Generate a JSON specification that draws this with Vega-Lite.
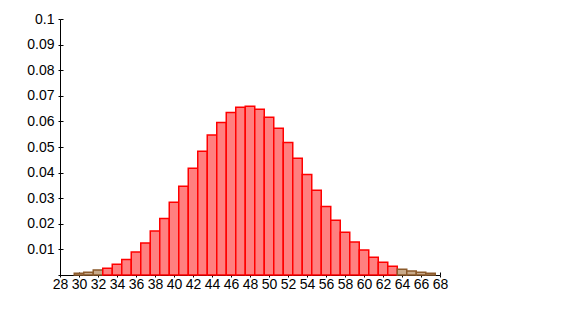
{
  "$schema": "https://vega.github.io/schema/vega-lite/v6.json",
  "width": 380,
  "height": 256,
  "autosize": {"type": "none"},
  "padding": {"left": 60, "top": 19, "right": 136, "bottom": 39},
  "background": "white",
  "config": {
    "view": {"stroke": null},
    "axis": {
      "labelFont": "Liberation Sans",
      "labelFontSize": 14,
      "labelColor": "black",
      "domainColor": "black",
      "tickColor": "black",
      "grid": false,
      "title": null,
      "zindex": 1
    }
  },
  "data": {
    "values": [
      {"k": 30, "p": 0.0007}, {"k": 31, "p": 0.0011}, {"k": 32, "p": 0.0020},
      {"k": 33, "p": 0.0026}, {"k": 34, "p": 0.0042}, {"k": 35, "p": 0.0061},
      {"k": 36, "p": 0.0090}, {"k": 37, "p": 0.0125}, {"k": 38, "p": 0.0172},
      {"k": 39, "p": 0.0221}, {"k": 40, "p": 0.0284}, {"k": 41, "p": 0.0347},
      {"k": 42, "p": 0.0417}, {"k": 43, "p": 0.0483}, {"k": 44, "p": 0.0547},
      {"k": 45, "p": 0.0596}, {"k": 46, "p": 0.0635}, {"k": 47, "p": 0.0655},
      {"k": 48, "p": 0.0659}, {"k": 49, "p": 0.0647}, {"k": 50, "p": 0.0616},
      {"k": 51, "p": 0.0573}, {"k": 52, "p": 0.0518}, {"k": 53, "p": 0.0456},
      {"k": 54, "p": 0.0393}, {"k": 55, "p": 0.0331}, {"k": 56, "p": 0.0268},
      {"k": 57, "p": 0.0214}, {"k": 58, "p": 0.0167}, {"k": 59, "p": 0.0129},
      {"k": 60, "p": 0.0098}, {"k": 61, "p": 0.0069}, {"k": 62, "p": 0.0050},
      {"k": 63, "p": 0.0034}, {"k": 64, "p": 0.0022}, {"k": 65, "p": 0.0016},
      {"k": 66, "p": 0.0011}, {"k": 67, "p": 0.0007}
    ]
  },
  "transform": [
    {"calculate": "datum.k - 0.5", "as": "lo"},
    {"calculate": "datum.k + 0.5", "as": "hi"}
  ],
  "layer": [
    {
      "mark": {"type": "bar", "strokeWidth": 1.5},
      "encoding": {
        "x": {
          "field": "lo", "type": "quantitative",
          "scale": {"domain": [28, 68], "nice": false, "zero": false},
          "axis": {
            "values": [28, 30, 32, 34, 36, 38, 40, 42, 44, 46, 48, 50, 52, 54, 56, 58, 60, 62, 64, 66, 68],
            "tickSize": 2, "labelPadding": 0, "labelFlush": false, "labelOverlap": false,
            "orient": "bottom"
          }
        },
        "x2": {"field": "hi"},
        "y": {
          "field": "p", "type": "quantitative",
          "scale": {"domain": [0, 0.1], "nice": false},
          "axis": {
            "values": [0, 0.01, 0.02, 0.03, 0.04, 0.05, 0.06, 0.07, 0.08, 0.09, 0.1],
            "format": "~g",
            "labelExpr": "datum.value == 0 ? '' : datum.label",
            "tickSize": 2, "labelPadding": 4, "labelOverlap": false,
            "orient": "left"
          }
        },
        "y2": {"datum": 0},
        "fill": {"condition": {"test": "datum.k < 33 || datum.k > 63", "value": "#c8aa8a"}, "value": "#ff8080"},
        "stroke": {"condition": {"test": "datum.k < 33 || datum.k > 63", "value": "#8b5a2b"}, "value": "#ff0000"}
      }
    },
    {
      "mark": {"type": "bar", "opacity": 0},
      "encoding": {
        "x": {
          "field": "lo", "type": "quantitative",
          "axis": {
            "values": [28, 30, 32, 34, 36, 38, 40, 42, 44, 46, 48, 50, 52, 54, 56, 58, 60, 62, 64, 66, 68],
            "tickSize": -3, "labels": false, "domain": false, "orient": "bottom"
          }
        },
        "x2": {"field": "hi"},
        "y": {
          "field": "p", "type": "quantitative",
          "axis": {
            "values": [0, 0.01, 0.02, 0.03, 0.04, 0.05, 0.06, 0.07, 0.08, 0.09, 0.1],
            "tickSize": -3, "labels": false, "domain": false, "orient": "left"
          }
        },
        "y2": {"datum": 0}
      }
    }
  ],
  "resolve": {"axis": {"x": "independent", "y": "independent"}}
}
